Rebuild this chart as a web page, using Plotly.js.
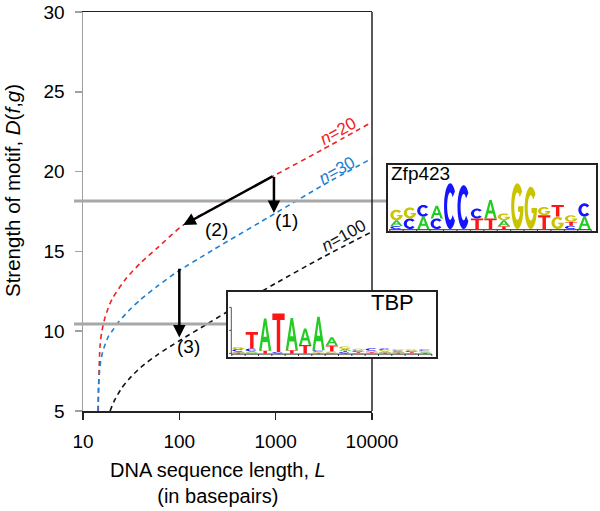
<!DOCTYPE html>
<html><head><meta charset="utf-8">
<script src="https://cdn.plot.ly/plotly-3.0.1.min.js"></script>
<style>html,body{margin:0;padding:0;background:#fff}</style>
</head><body>
<div id="chart" style="width:600px;height:511px"></div>
<script>
// ---------------- data ----------------
const lengthN20   = [14.4, 14.6, 15.0, 15.6, 17, 20, 28, 40, 60, 110, 300, 1000, 3000, 10000];
const strengthN20 = [5.0, 7.0, 9.0, 9.9, 10.9, 12.0, 13.3, 14.3, 15.25, 16.65, 18.1, 19.8, 21.35, 23.1];
const lengthN30   = [14.3, 14.5, 15.0, 16.0, 18.3, 20.7, 23.2, 30, 39, 60, 94, 225, 1000, 3000, 10000];
const strengthN30 = [5.0, 6.5, 7.8, 8.7, 9.66, 10.12, 10.55, 11.3, 11.95, 12.85, 13.7, 15.1, 17.4, 19.1, 20.83];
const lengthN100   = [19.1, 21, 25, 30, 40, 60, 100, 200, 400, 1000, 3000, 10000];
const strengthN100 = [5.0, 5.6, 6.4, 7.0, 7.75, 8.55, 9.4, 10.5, 11.6, 13.0, 14.6, 16.23];
const seriesNames = ['n=20', 'n=30', 'n=100'];

const xTickVals = [10, 100, 1000, 10000];
const xTickText = ['10', '100', '1000', '10000'];
const yTickVals = [5, 10, 15, 20, 25, 30];

const motifNames = ['Zfp423', 'TBP'];
const motifStrength = [18.16, 10.45];

// arrows: start -> end
const arrowLabels = ['(1)', '(2)', '(3)'];
const arrowStartL = [960, 960, 100];
const arrowStartD = [19.75, 19.75, 14.0];
const arrowEndL   = [960, 110, 100];
const arrowEndD   = [17.4, 16.65, 9.6];

// sequence logos (bottom -> top letters, heights in bits)
const tbpColumns = ["TACG","GACT","TA","CT","TA","TA","TGCA","CGTA","CTAG","ATCG","ATGC","TAGC","TACG","ATCG","TAGC"];
const tbpBits = [[0.04,0.04,0.1,0.1],[0.04,0.05,0.12,0.72],[0.12,1.4],[0.06,1.67],[0.14,1.4],[0.37,0.71],
  [0.03,0.05,0.06,1.45],[0.03,0.05,0.26,0.36],[0.06,0.06,0.08,0.1],[0.03,0.04,0.06,0.07],[0.03,0.03,0.06,0.1],
  [0.04,0.05,0.06,0.06],[0.04,0.04,0.05,0.05],[0.03,0.04,0.05,0.06],[0.03,0.04,0.05,0.05]];
const zfpColumns = ["CAG","CG","AC","CA","C","C","TC","TA","TAG","G","G","TG","GT","CTG","AC"];
const zfpBits = [[0.13,0.25,0.46],[0.46,0.48],[0.54,0.51],[0.46,0.55],[1.99],[1.91],[0.46,0.43],[0.46,0.8],
  [0.12,0.26,0.3],[1.99],[1.84],[0.6,0.36],[0.54,0.51],[0.14,0.17,0.29],[0.54,0.58]];

// ---------------- styling / geometry ----------------
const FONT = 'Liberation Sans, Arial, sans-serif';
const PX = {l: 83, r: 597, t: 12, b: 411};
const PW = PX.r - PX.l, PH = PX.b - PX.t;
const px2x = p => (p - PX.l) / PW;
const px2y = p => (PX.b - p) / PH;
const mainRight = px2x(372);
const tbpBox = {x0: px2x(227), x1: px2x(437), y0: px2y(358), y1: px2y(291)};
const zfpBox = {x0: px2x(387), x1: px2x(597), y0: px2y(232), y1: px2y(164)};
const colors = ['#ee2222', '#2080d0', '#111111'];
const letterColor = {A: '#22cc22', C: '#1515ff', G: '#c8c400', T: '#ff1515'};

// ---------------- glyphs ----------------
function arc(cx, cy, rx, ry, a0, a1, n) {
  const pts = [];
  for (let i = 0; i <= n; i++) {
    const a = (a0 + (a1 - a0) * i / n) * Math.PI / 180;
    pts.push([cx + rx * Math.cos(a), cy + ry * Math.sin(a)]);
  }
  return pts;
}
const GLYPHS = {
  T: [[[0,1],[1,1],[1,0.83],[0.64,0.83],[0.64,0],[0.36,0],[0.36,0.83],[0,0.83]]],
  A: [[[0,0],[0.2,0],[0.3,0.27],[0.7,0.27],[0.8,0],[1,0],[0.6,1],[0.4,1]],
      [[0.37,0.43],[0.5,0.8],[0.63,0.43]]],
  C: [arc(0.5,0.5,0.5,0.5,40,320,30).concat(arc(0.5,0.5,0.25,0.3,320,40,30))],
  G: [arc(0.5,0.5,0.5,0.5,40,360,30).concat([[0.56,0.5],[0.56,0.38]]).concat(arc(0.5,0.5,0.25,0.3,335,40,30))]
};
function glyphPath(ch, x0, w, y0, h) {
  return GLYPHS[ch].map(poly => 'M' + poly.map(p =>
    (x0 + p[0] * w).toFixed(4) + ',' + (y0 + p[1] * h).toFixed(4)).join('L') + 'Z').join(' ');
}
function logoShapes(columns, bits, xref, yref, withBitsAxis) {
  const s = [];
  columns.forEach((letters, i) => {
    const pos = i + 1;
    let base = 0;
    letters.split('').forEach((ch, k) => {
      const h = bits[i][k];
      s.push({type: 'path', xref, yref, layer: 'above',
        path: glyphPath(ch, pos - 0.46, 0.92, base, h),
        fillcolor: letterColor[ch], line: {width: 0}});
      base += h;
    });
  });
  const n = columns.length;
  s.push({type: 'line', xref, yref, layer: 'above', x0: 0.46, x1: n + 0.5, y0: -0.03, y1: -0.03,
    line: {color: '#333', width: 1}});
  for (let b = 0; b <= n; b++) {
    s.push({type: 'line', xref, yref, layer: 'above', x0: b + 0.5, x1: b + 0.5, y0: -0.03, y1: -0.11,
      line: {color: '#333', width: 1}});
  }
  if (withBitsAxis) {
    s.push({type: 'line', xref, yref, layer: 'above', x0: 0.46, x1: 0.46, y0: -0.03, y1: 2,
      line: {color: '#555', width: 1}});
    [0, 1, 2].forEach(v => s.push({type: 'line', xref, yref, layer: 'above', x0: 0.3, x1: 0.46, y0: v, y1: v,
      line: {color: '#555', width: 1}}));
  }
  return s;
}

// ---------------- traces ----------------
const curves = [[lengthN20, strengthN20], [lengthN30, strengthN30], [lengthN100, strengthN100]];
const traces = curves.map((c, i) => ({
  x: c[0], y: c[1], type: 'scatter', mode: 'lines', name: seriesNames[i],
  line: {color: colors[i], width: 1.6, dash: '5px,4px', shape: 'spline', smoothing: 0.7},
  xaxis: 'x', yaxis: 'y', showlegend: false, hoverinfo: 'skip'
}));
traces.push({x: [], y: [], xaxis: 'x2', yaxis: 'y2', type: 'scatter', showlegend: false});
traces.push({x: [], y: [], xaxis: 'x3', yaxis: 'y3', type: 'scatter', showlegend: false});

// ---------------- shapes ----------------
const shapes = [];
const lineEnds = [zfpBox.x0, tbpBox.x0];
motifStrength.forEach((v, i) => shapes.push({type: 'line', xref: 'paper', yref: 'y', layer: 'above',
  x0: px2x(74), x1: lineEnds[i], y0: v, y1: v, line: {color: '#a8a8a8', width: 3}}));
shapes.push({type: 'line', xref: 'paper', yref: 'paper', layer: 'above', x0: mainRight, x1: mainRight,
  y0: 0, y1: 1, line: {color: '#222', width: 1.5}});
[tbpBox, zfpBox].forEach(b => shapes.push({type: 'rect', xref: 'paper', yref: 'paper', layer: 'above',
  x0: b.x0, x1: b.x1, y0: b.y0, y1: b.y1, fillcolor: '#ffffff', line: {color: '#222', width: 2}}));
shapes.push(...logoShapes(tbpColumns, tbpBits, 'x2', 'y2', true));
shapes.push(...logoShapes(zfpColumns, zfpBits, 'x3', 'y3', false));

// ---------------- annotations ----------------
const annotations = [];
arrowLabels.forEach((lab, i) => annotations.push({
  xref: 'x', yref: 'y', axref: 'x', ayref: 'y',
  x: Math.log10(arrowEndL[i]), y: arrowEndD[i], ax: Math.log10(arrowStartL[i]), ay: arrowStartD[i],
  text: '', showarrow: true, arrowhead: 2, arrowsize: 1, arrowwidth: 2.5, arrowcolor: '#000', standoff: 0
}));
const labelPos = [[3.115, 16.92], [2.388, 16.4], [2.098, 9.03]];
arrowLabels.forEach((lab, i) => annotations.push({
  xref: 'x', yref: 'y', x: labelPos[i][0], y: labelPos[i][1], xanchor: 'center', yanchor: 'middle',
  text: lab, showarrow: false, font: {family: FONT, size: 19, color: '#000'}
}));
const curveLabelPos = [[3.642, 22.51], [3.634, 20.05], [3.712, 15.98]];
seriesNames.forEach((nm, i) => annotations.push({
  xref: 'x', yref: 'y', x: curveLabelPos[i][0], y: curveLabelPos[i][1], xanchor: 'center', yanchor: 'middle',
  text: '<i>n</i>=' + nm.split('=')[1], showarrow: false, textangle: -29,
  font: {family: FONT, size: 17, color: colors[i]}
}));
annotations.push({xref: 'paper', yref: 'paper', x: px2x(389), y: px2y(173.5), xanchor: 'left', yanchor: 'middle',
  text: motifNames[0], showarrow: false, font: {family: FONT, size: 19, color: '#000'}});
annotations.push({xref: 'paper', yref: 'paper', x: px2x(369), y: px2y(302), xanchor: 'left', yanchor: 'middle',
  text: motifNames[1], showarrow: false, font: {family: FONT, size: 22, color: '#000'}});
// axis titles
annotations.push({xref: 'paper', yref: 'paper', x: px2x(12), y: px2y(191), textangle: -90,
  xanchor: 'center', yanchor: 'middle',
  text: 'Strength of motif, <i>D</i>(<i>f</i>,<i>g</i>)', showarrow: false,
  font: {family: FONT, size: 20.5, color: '#000'}});
annotations.push({xref: 'paper', yref: 'paper', x: px2x(218), y: px2y(483), xanchor: 'center', yanchor: 'middle',
  text: 'DNA sequence length, <i>L</i><br>(in basepairs)', showarrow: false,
  font: {family: FONT, size: 20, color: '#000'}});

// ---------------- layout ----------------
const layout = {
  width: 600, height: 511,
  margin: {l: PX.l, r: 600 - PX.r, t: PX.t, b: 511 - PX.b, pad: 0},
  paper_bgcolor: '#fff', plot_bgcolor: '#fff',
  font: {family: FONT, color: '#000'},
  showlegend: false,
  xaxis: {type: 'log', range: [1, 4], domain: [0, mainRight], showgrid: false, zeroline: false,
    showline: true, linecolor: '#222', linewidth: 1.5, mirror: true,
    ticks: 'outside', ticklen: 7, tickcolor: '#222', tickwidth: 1.5,
    tickvals: xTickVals, ticktext: xTickText, tickfont: {family: FONT, size: 19, color: '#000'},
    ticklabelstandoff: 6, fixedrange: true},
  yaxis: {range: [5, 30], domain: [0, 1], showgrid: false, zeroline: false,
    showline: true, linecolor: '#a0a0a0', linewidth: 1.5,
    ticks: 'outside', ticklen: 7, tickcolor: '#a0a0a0', tickwidth: 1.5,
    tickvals: yTickVals, tickfont: {family: FONT, size: 19, color: '#000'},
    ticklabelstandoff: 6, fixedrange: true},
  xaxis2: {domain: [tbpBox.x0, tbpBox.x1], range: [0.137, 15.89], anchor: 'y2', visible: false, fixedrange: true},
  yaxis2: {domain: [tbpBox.y0, tbpBox.y1], range: [-0.2, 2.71], anchor: 'x2', visible: false, fixedrange: true},
  xaxis3: {domain: [zfpBox.x0, zfpBox.x1], range: [0.293, 15.93], anchor: 'y3', visible: false, fixedrange: true},
  yaxis3: {domain: [zfpBox.y0, zfpBox.y1], range: [-0.13, 2.83], anchor: 'x3', visible: false, fixedrange: true},
  shapes: shapes,
  annotations: annotations
};

Plotly.newPlot('chart', traces, layout, {staticPlot: true, displayModeBar: false});
</script>
</body></html>
